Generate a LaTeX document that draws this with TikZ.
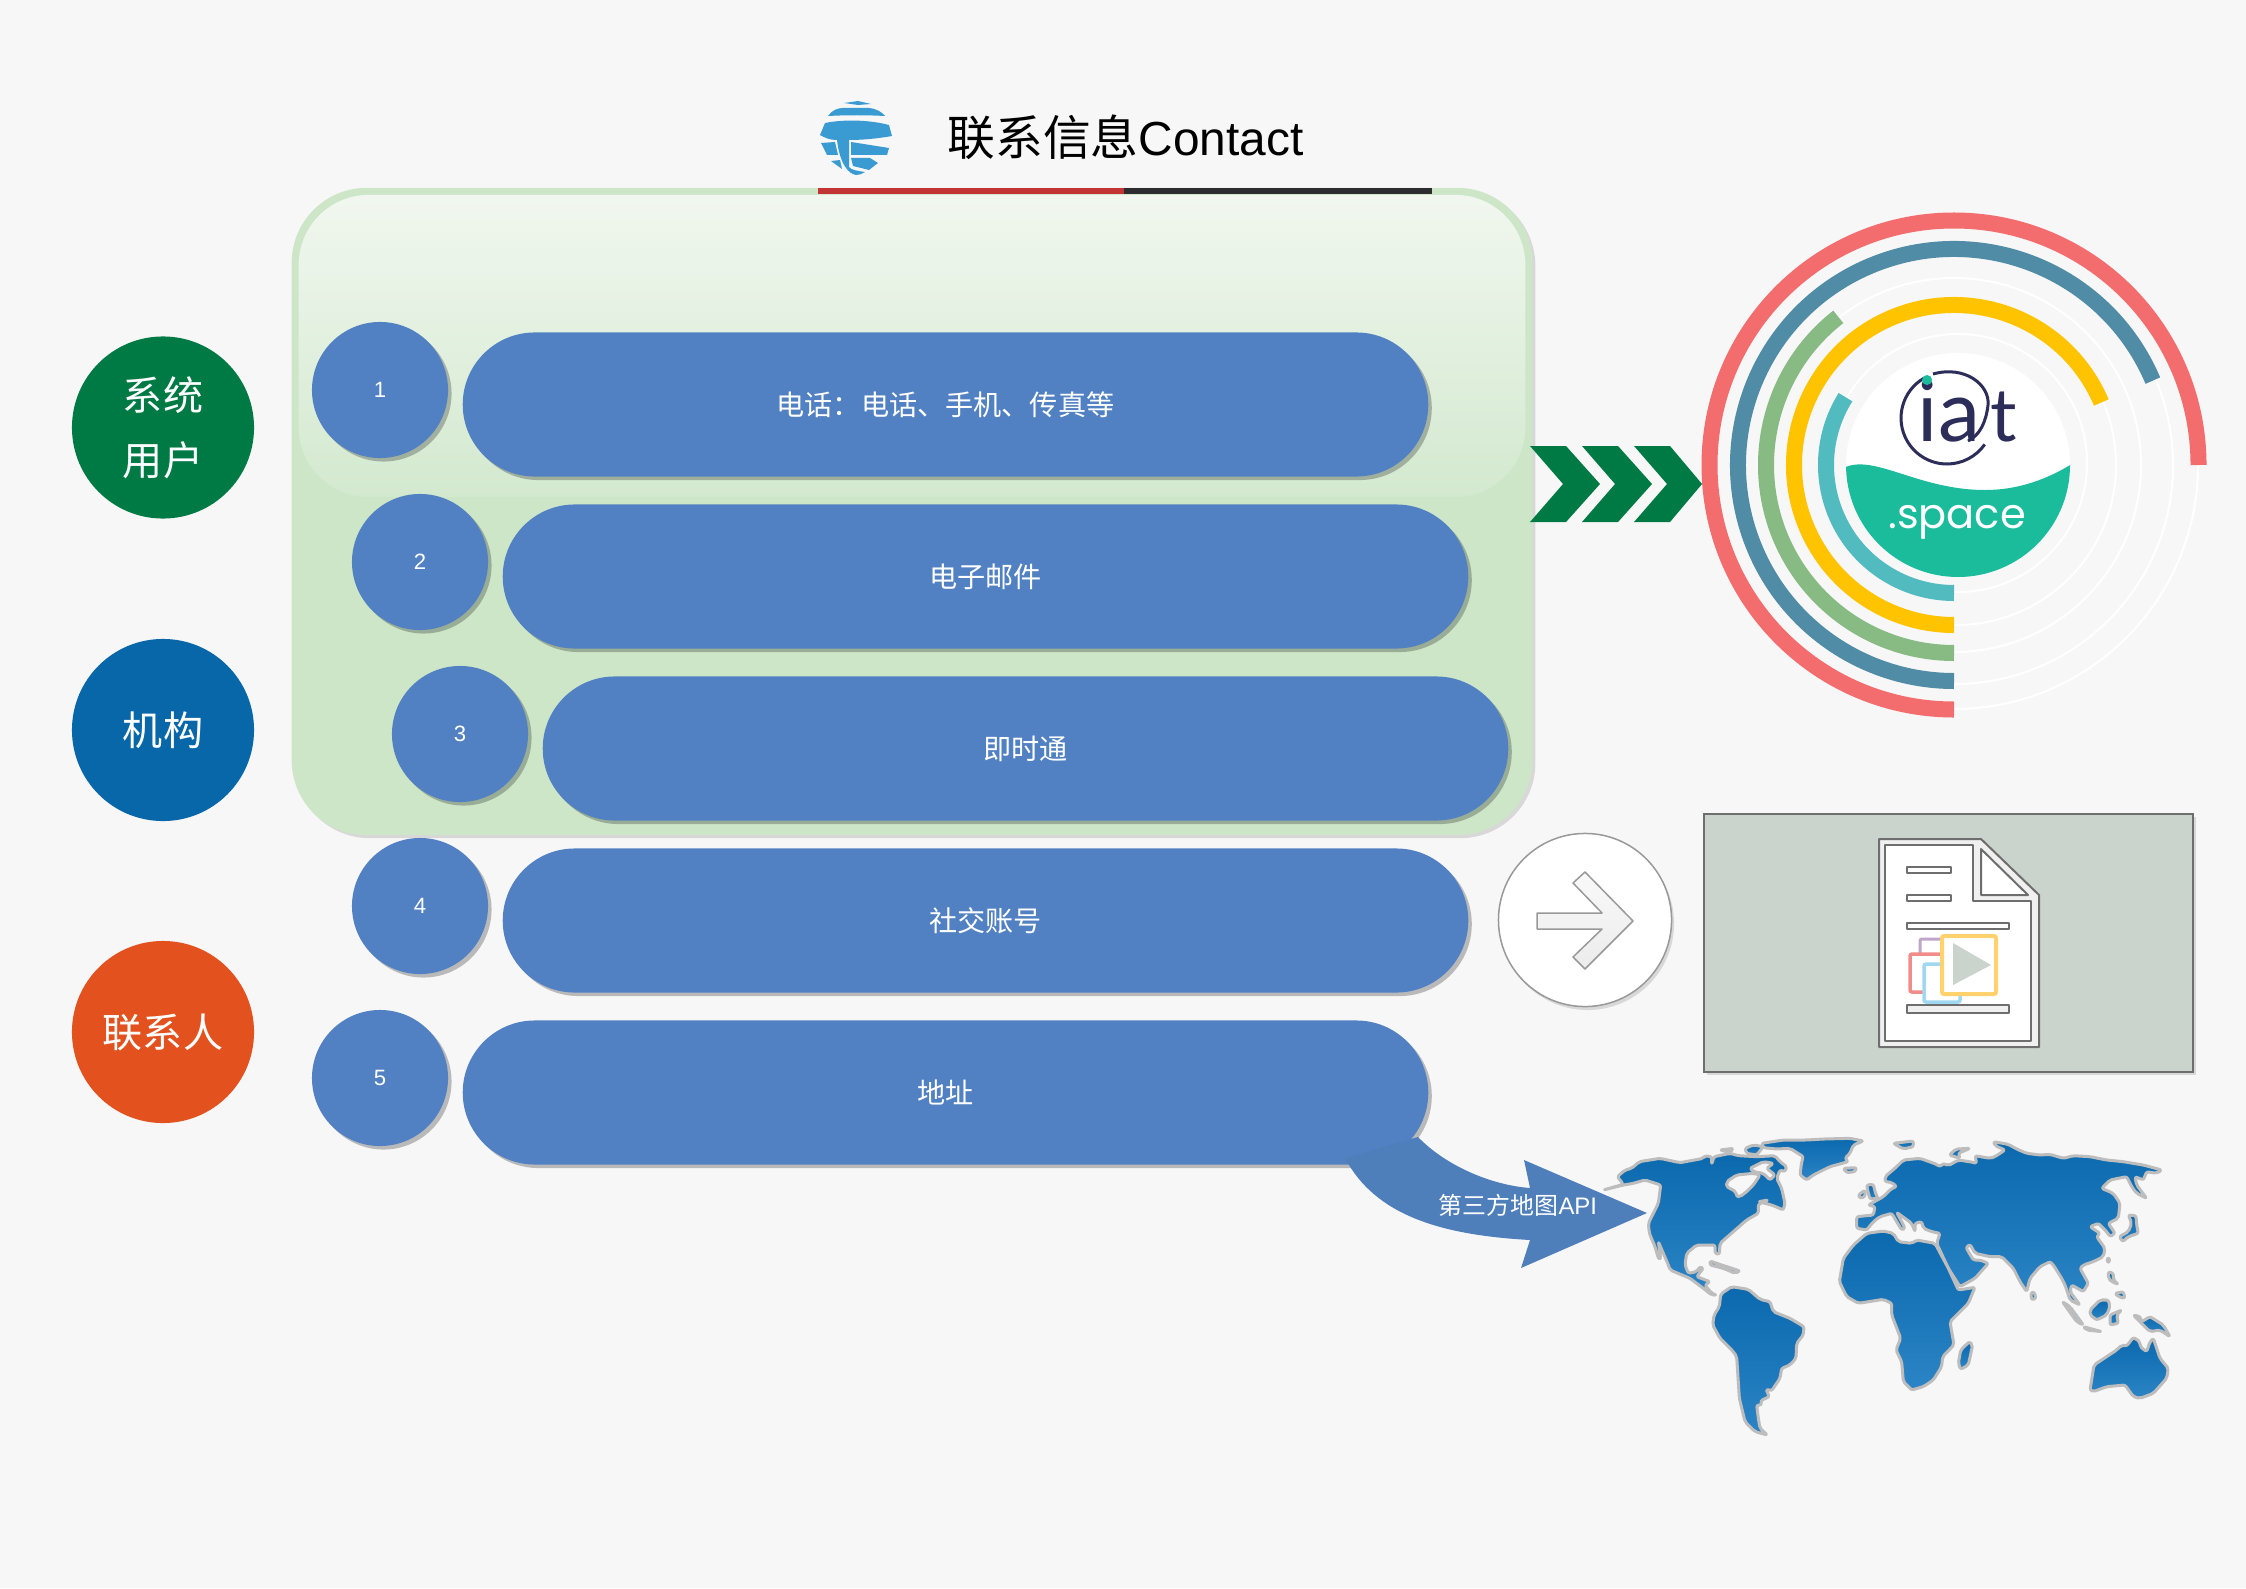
\documentclass[tikz,border=0pt]{standalone}
\usepackage{fontspec}
\setmainfont{Liberation Sans}
\newfontfamily\cjk{Noto Sans CJK SC}
\newfontfamily\logoa{Lato}
\newfontfamily\logob{Poppins}
\usetikzlibrary{shapes.misc,shadows}
\definecolor{pageback}{HTML}{F7F7F7}
\definecolor{panelgreen}{HTML}{CDE6C8}
\definecolor{glosstop}{HTML}{F1F7EF}
\definecolor{glossend}{HTML}{D3E9CF}
\definecolor{pillblue}{HTML}{5181C3}
\definecolor{landedge}{HTML}{BDBDBD}
\definecolor{landtop}{HTML}{0B69AE}
\definecolor{landend}{HTML}{2B84C5}
\definecolor{docgrey}{HTML}{6E6E6E}
\definecolor{framefill}{HTML}{CBD4CC}
\definecolor{logoink}{HTML}{2D2D5A}
\definecolor{logoteal}{HTML}{1ABC9C}
\definecolor{globeblue}{HTML}{3A9BD3}
\definecolor{chevgreen}{HTML}{007A45}
\definecolor{rulered}{HTML}{C53434}
\definecolor{ruledark}{HTML}{2D2D2F}
\tikzset{
  softshadow/.style={drop shadow={shadow xshift=.35mm,shadow yshift=-.35mm,fill=black,opacity=.25}},
  rolenode/.style={circle,minimum size=1.82cm,inner sep=0pt,text=white,align=center,font=\cjk\fontsize{11.4}{18.5}\selectfont},
  numnode/.style={circle,fill=pillblue,minimum size=1.36cm,inner sep=0pt,text=white,softshadow,font=\fontsize{6.3}{8}\selectfont},
  pillnode/.style={rounded rectangle,fill=pillblue,minimum width=9.65cm,minimum height=1.44cm,inner sep=0pt,text=white,softshadow,font=\cjk\fontsize{8}{10}\selectfont},
  land/.style={draw=landedge,line width=.3mm,line join=round,rounded corners=.6pt,top color=landtop,bottom color=landend},
  water/.style={draw=landedge,line width=.3mm,line join=round,rounded corners=.6pt,fill=pageback},
  docline/.style={draw=docgrey,line width=.2mm,line join=round},
  ring/.style={line width=1.6mm},
  thinring/.style={draw=white,line width=.2mm},
}
\begin{document}
\begin{tikzpicture}[x=0.01cm,y=-0.01cm]
\useasboundingbox (0,0) rectangle (2246,1588);
\fill[pageback] (0,0) rectangle (2246,1588);
% title
\fill[globeblue] (844,103) -- (858,101) -- (871,104) -- (858,105) -- cycle;
\fill[globeblue] (828,116) .. controls (832,110) and (838,108) .. (843,108) -- (869,108) .. controls (877,109) and (882,112) .. (885,116) .. controls (866,115) and (846,115) .. (828,116) -- cycle;
\fill[globeblue] (820,135) -- (825,123) .. controls (845,119) and (870,120) .. (889,125) -- (892,136) .. controls (875,139) and (860,140) .. (849,140) -- (849,167) .. controls (851,170) and (858,171) .. (865,172) .. controls (862,174) and (859,175) .. (856,175) .. controls (849,174) and (840,165) .. (837,140) .. controls (830,140) and (825,138) .. (820,135) -- cycle;
\fill[globeblue] (821,143) -- (835,142) -- (838,155) -- (827,155) -- cycle;
\fill[globeblue] (851,142) -- (889,148) -- (887,155) -- (851,155) -- cycle;
\fill[globeblue] (851,158) -- (870,158) -- (878,163) -- (869,170) -- (853,166) -- cycle;
\fill[globeblue] (831,161) -- (840,160) -- (842,169) -- cycle;
\node[font=\fontsize{13.6}{16}\selectfont] (titletext) at (1125.5,137) {{\cjk 联系信息}Contact};
% panel
\node[rectangle,rounded corners=.75cm,fill=panelgreen,minimum width=12.4cm,minimum height=6.47cm,inner sep=0pt,drop shadow={shadow xshift=.3mm,shadow yshift=-.3mm,fill=black,opacity=.12}] (panel) at (912,511.5) {};
\node[rectangle,rounded corners=.7cm,top color=glosstop,bottom color=glossend,minimum width=12.26cm,minimum height=3.02cm,inner sep=0pt] (gloss) at (912,346) {};
\fill[rulered] (818,188) rectangle (1124,194);
\fill[ruledark] (1124,188) rectangle (1432,194);
% left circles
\node[rolenode,fill={rgb,255:red,0;green,122;blue,69}] (roleuser) at (163,427.5) {系统\\用户};
\node[rolenode,fill={rgb,255:red,8;green,103;blue,169}] (roleorg) at (163,730) {机构};
\node[rolenode,fill={rgb,255:red,226;green,81;blue,30}] (roleperson) at (163,1032) {联系人};
% items
\node[numnode] (num1) at (380,390) {1};
\node[numnode] (num2) at (420,562) {2};
\node[numnode] (num3) at (460,734) {3};
\node[numnode] (num4) at (420,906) {4};
\node[numnode] (num5) at (380,1078) {5};
\node[pillnode] (pillphone) at (945.5,404.5) {电话：电话、手机、传真等};
\node[pillnode] (pillmail) at (985.5,576.5) {电子邮件};
\node[pillnode] (pillim) at (1025.5,748.5) {即时通};
\node[pillnode] (pillsocial) at (985.5,920.5) {社交账号};
\node[pillnode] (pilladdr) at (945.5,1092.5) {地址};
% chevrons
\fill[chevgreen] (1530,446) -- (1566,446) -- (1600,484) -- (1566,522) -- (1530,522) -- (1563,484) -- cycle;
\fill[chevgreen] (1582,446) -- (1618,446) -- (1652,484) -- (1618,522) -- (1582,522) -- (1615,484) -- cycle;
\fill[chevgreen] (1634,446) -- (1670,446) -- (1702,484) -- (1670,522) -- (1634,522) -- (1667,484) -- cycle;
% rings
\draw[thinring] (1954,465) circle (244);
\draw[thinring] (1954,465) circle (219);
\draw[thinring] (1954,465) circle (187);
\draw[thinring] (1956,465) circle (160);
\draw[thinring] (1958,463) circle (129);
\draw[ring,color={rgb,255:red,243;green,109;blue,110}] (1954,465) ++(0:244.5) arc[start angle=0,end angle=-270,radius=244.5];
\draw[ring,color={rgb,255:red,80;green,140;blue,165}] (1954,465) ++(-23:216) arc[start angle=-23,end angle=-270,radius=216];
\draw[ring,color={rgb,255:red,136;green,186;blue,132}] (1954,465) ++(-128:188) arc[start angle=-128,end angle=-270,radius=188];
\draw[ring,color={rgb,255:red,255;green,195;blue,0}] (1954,465) ++(-23:160) arc[start angle=-23,end angle=-270,radius=160];
\draw[ring,color={rgb,255:red,82;green,187;blue,192}] (1954,465) ++(-148:128) arc[start angle=-148,end angle=-270,radius=128];
% logo
\fill[white] (1958,465) circle (112);
\begin{scope}
\clip (1958,465) circle (112);
\fill[logoteal] (1840,470) .. controls (1870,450) and (1915,490) .. (1985,490) .. controls (2020,490) and (2050,478) .. (2075,462) -- (2075,590) -- (1840,590) -- cycle;
\end{scope}
\draw[logoink,line width=.3mm] (1947,418) ++(-120:46) arc[start angle=-120,end angle=-325,radius=46];
\draw[logoink,line width=.3mm] (1933,374) .. controls (1965,365) and (1990,385) .. (1988,405) .. controls (1986,422) and (1980,435) .. (1968,441);
\node[logoink,inner sep=0pt,anchor=base,font=\logoa\fontsize{24}{26}\selectfont] (logoia) at (1949,441) {ia};
\node[logoink,inner sep=0pt,anchor=base,font=\logoa\fontsize{21}{24}\selectfont] (logot) at (2004,441) {t};
\fill[logoteal] (1927,380) circle (5);
\node[white,inner sep=0pt,font=\logob\fontsize{11.8}{14}\selectfont] (logospace) at (1957,522) {.space};
% arrow circle
\node[circle,draw=gray!80,line width=.15mm,fill=white,minimum size=1.73cm,inner sep=0pt,drop shadow={shadow xshift=.25mm,shadow yshift=-.35mm,fill=black,opacity=.12}] (nextcircle) at (1585,920) {};
\draw[gray!80,line width=.15mm,line join=round,top color=gray!5,bottom color=gray!15] (1537,913) -- (1602,913) -- (1573,883) -- (1585,872) -- (1633,921) -- (1585,969) -- (1573,957) -- (1602,929) -- (1537,929) -- cycle;
% document frame
\node[rectangle,draw=docgrey,line width=.2mm,fill=framefill,minimum width=4.89cm,minimum height=2.58cm,inner sep=0pt,drop shadow={shadow xshift=.3mm,shadow yshift=-.3mm,fill=black,opacity=.12}] (docframe) at (1948.5,943) {};
\draw[docline,fill=gray!12] (1879,839) -- (1981,839) -- (2039,895) -- (2039,1047) -- (1879,1047) -- cycle;
\draw[docline,fill=white] (1885,845) -- (1973,845) -- (1973,901) -- (2031,901) -- (2031,1041) -- (1885,1041) -- cycle;
\draw[docline,fill=white] (1981,849) -- (2028,895) -- (1981,895) -- cycle;
\draw[docline,fill=white] (1907,867) rectangle (1951,873);
\draw[docline,fill=white] (1907,895) rectangle (1951,901);
\draw[docline,fill=white] (1907,923) rectangle (2009,929);
\draw[docline,fill=gray!12] (1907,1005) rectangle (2009,1013);
\draw[color={rgb,255:red,192;green,165;blue,203},line width=.3mm,rounded corners=.02cm,fill=white] (1920,939) rectangle (1962,975);
\draw[color={rgb,255:red,240;green,141;blue,138},line width=.35mm,rounded corners=.02cm,fill=white] (1910,954) rectangle (1952,992);
\draw[color={rgb,255:red,160;green,216;blue,241},line width=.35mm,rounded corners=.02cm,fill=white] (1924,964) rectangle (1960,1002);
\draw[color={rgb,255:red,255;green,210;blue,110},line width=.4mm,rounded corners=.02cm,fill=white] (1942,936) rectangle (1996,994);
\fill[framefill] (1953,943) -- (1991,965) -- (1953,985) -- cycle;
% map arrow
\fill[color={rgb,255:red,79;green,127;blue,187}] (1418,1137) .. controls (1445,1165) and (1490,1185) .. (1530,1188) -- (1524,1160) -- (1647,1213) -- (1521,1268) -- (1530,1240) .. controls (1440,1235) and (1375,1215) .. (1345,1158) -- cycle;
\node[white,inner sep=0pt,font=\fontsize{6.8}{8}\selectfont] (maplabel) at (1518,1205) {{\cjk 第三方地图}API};
% map
\begin{scope}[shift={(1590,1125)},scale=.3333]
\draw[land] (40,195) -- (100,178) -- (82,155) -- (105,135) -- (125,130) -- (148,110) -- (210,100) -- (270,113) -- (340,100) -- (345,92) -- (365,95) -- (365,118) -- (372,95) -- (420,85) -- (445,92) -- (500,95) -- (555,92) -- (570,110) -- (590,125) -- (585,140) -- (570,135) -- (560,160) -- (575,190) -- (585,235) -- (580,255) -- (545,240) -- (505,230) -- (535,225) -- (505,238) -- (505,265) -- (470,285) -- (430,320) -- (390,355) -- (388,388) -- (375,385) -- (375,360) -- (320,360) -- (290,385) -- (285,420) -- (295,445) -- (320,440) -- (330,425) -- (340,430) -- (320,455) -- (360,470) -- (345,480) -- (365,505) -- (380,510) -- (365,510) -- (340,490) -- (300,460) -- (240,435) -- (235,420) -- (205,350) -- (212,400) -- (205,400) -- (195,365) -- (178,325) -- (175,295) -- (205,235) -- (212,180) -- (165,165) -- (130,175) -- (100,180) -- cycle;
\draw[water] (410,170) -- (440,150) -- (490,145) -- (510,150) -- (490,180) -- (470,200) -- (450,215) -- (440,215) -- (438,200) -- (410,185) -- cycle;
\draw[water] (480,130) -- (520,110) -- (550,115) -- (530,130) -- (555,150) -- (540,165) -- (520,145) -- (490,140) -- cycle;
\draw[land] (390,75) -- (430,70) -- (420,82) -- cycle;
\draw[land] (465,70) -- (490,60) -- (520,65) -- (500,90) -- (470,85) -- cycle;
\draw[land] (515,55) -- (580,45) -- (650,45) -- (700,42) -- (780,40) -- (820,48) -- (790,60) -- (780,85) -- (765,100) -- (775,110) -- (720,125) -- (670,150) -- (650,165) -- (630,150) -- (635,110) -- (640,95) -- (600,70) -- (560,72) -- (520,68) -- cycle;
\draw[land] (760,130) -- (800,128) -- (795,140) -- (770,143) -- cycle;
\draw[land] (360,408) -- (395,420) -- (450,438) -- (435,445) -- (400,430) -- (360,420) -- cycle;
\draw[land] (805,210) -- (825,195) -- (825,215) -- (810,220) -- cycle;
\draw[land] (830,180) -- (850,178) -- (858,210) -- (865,220) -- (840,222) -- (835,205) -- cycle;
\end{scope}
\begin{scope}[shift={(1880,1125)},scale=.3333]
\draw[land] (-70,310) -- (-70,275) -- (-20,270) -- (-15,245) -- (-35,240) -- (10,215) -- (35,190) -- (50,185) -- (35,172) -- (15,170) -- (15,155) -- (50,125) -- (70,105) -- (120,100) -- (170,118) -- (180,125) -- (190,115) -- (205,122) -- (235,105) -- (280,112) -- (290,115) -- (285,92) -- (330,100) -- (345,95) -- (375,75) -- (345,62) -- (340,50) -- (385,58) -- (410,72) -- (440,85) -- (480,90) -- (510,88) -- (550,100) -- (580,92) -- (630,95) -- (680,105) -- (730,110) -- (790,120) -- (845,135) -- (830,145) -- (800,140) -- (790,165) -- (765,155) -- (770,180) -- (800,220) -- (770,205) -- (755,185) -- (740,155) -- (690,165) -- (665,190) -- (700,205) -- (720,235) -- (715,280) -- (685,295) -- (705,325) -- (690,335) -- (680,320) -- (655,295) -- (630,305) -- (660,325) -- (650,335) -- (675,370) -- (670,395) -- (640,410) -- (610,420) -- (600,430) -- (625,475) -- (610,500) -- (575,480) -- (570,500) -- (600,540) -- (570,525) -- (555,480) -- (545,460) -- (520,420) -- (510,410) -- (480,425) -- (450,460) -- (440,500) -- (420,470) -- (400,430) -- (365,395) -- (330,395) -- (285,385) -- (270,358) -- (258,368) -- (280,405) -- (300,405) -- (325,415) -- (285,460) -- (240,485) -- (205,430) -- (170,355) -- (180,325) -- (155,320) -- (130,310) -- (125,290) -- (105,295) -- (105,320) -- (95,295) -- (50,262) -- (65,290) -- (75,310) -- (65,315) -- (35,265) -- (0,275) -- (-20,290) -- (-40,315) -- cycle;
\draw[land] (40,55) -- (100,48) -- (100,65) -- (70,72) -- cycle;
\draw[land] (208,90) -- (228,72) -- (270,70) -- (235,85) -- (240,100) -- cycle;
\draw[land] (745,270) -- (768,272) -- (770,300) -- (775,325) -- (745,335) -- (728,350) -- (718,335) -- (745,320) -- (755,295) -- cycle;
\draw[land] (452,505) -- (462,500) -- (468,520) -- (455,525) -- cycle;
\draw[land] (680,400) -- (690,400) -- (685,415) -- cycle;
\draw[land] (685,440) -- (700,445) -- (700,465) -- (715,478) -- (695,470) -- (685,460) -- cycle;
\draw[land] (705,505) -- (730,500) -- (735,520) -- (715,515) -- cycle;
\draw[land] (630,555) -- (660,525) -- (685,525) -- (690,545) -- (680,570) -- (650,585) -- (630,570) -- cycle;
\draw[land] (690,570) -- (725,555) -- (710,570) -- (715,595) -- (690,600) -- cycle;
\draw[land] (547,530) -- (570,545) -- (610,600) -- (590,590) -- cycle;
\draw[land] (610,605) -- (665,620) -- (620,615) -- cycle;
\draw[land] (760,570) -- (780,575) -- (785,590) -- (810,575) -- (850,600) -- (870,635) -- (840,615) -- (810,620) -- (790,600) -- cycle;
\end{scope}
\begin{scope}[shift={(1690,1270)},scale=.3333]
\draw[land] (92,72) -- (125,50) -- (175,58) -- (210,88) -- (240,95) -- (250,125) -- (300,145) -- (342,170) -- (340,195) -- (320,220) -- (318,265) -- (300,285) -- (275,295) -- (270,325) -- (245,362) -- (228,358) -- (238,380) -- (212,392) -- (215,405) -- (200,405) -- (205,445) -- (210,475) -- (232,495) -- (195,485) -- (165,455) -- (148,385) -- (140,260) -- (130,245) -- (90,205) -- (68,165) -- (72,135) -- (88,110) -- cycle;
\draw[land] (460,-35) -- (490,-75) -- (530,-110) -- (580,-117) -- (610,-110) -- (625,-85) -- (665,-80) -- (680,-90) -- (735,-80) -- (775,-5) -- (805,60) -- (855,52) -- (835,100) -- (780,155) -- (792,225) -- (758,260) -- (755,290) -- (730,330) -- (700,350) -- (665,360) -- (640,335) -- (635,275) -- (618,240) -- (632,205) -- (605,135) -- (605,100) -- (580,88) -- (505,100) -- (470,80) -- (448,35) -- cycle;
\draw[land] (838,215) -- (848,225) -- (835,285) -- (812,298) -- (805,280) -- (812,240) -- cycle;
\end{scope}
\begin{scope}[shift={(1980,1250)},scale=.3333]
\draw[land] (330,420) -- (342,345) -- (410,300) -- (425,285) -- (440,288) -- (460,262) -- (480,275) -- (480,290) -- (500,305) -- (510,275) -- (520,265) -- (540,325) -- (565,355) -- (560,385) -- (520,430) -- (480,445) -- (460,440) -- (435,405) -- (380,410) -- (340,425) -- cycle;
\end{scope}
\end{tikzpicture}
\end{document}
